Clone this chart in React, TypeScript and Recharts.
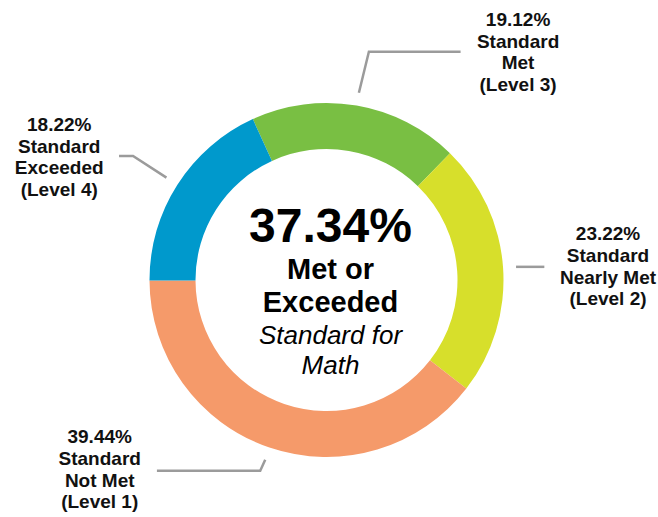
import { PieChart, Pie, Cell } from "recharts";

// Slices in drawing order (clockwise from about 11 o'clock)
const percents = [19.12, 23.22, 39.44, 18.22];
const labelLines = [
  ["Standard", "Met", "(Level 3)"],
  ["Standard", "Nearly Met", "(Level 2)"],
  ["Standard", "Not Met", "(Level 1)"],
  ["Standard", "Exceeded", "(Level 4)"],
];
const metLevels = [0, 3]; // Level 3 + Level 4
const centerLines = ["Met or", "Exceeded"];
const centerSub = ["Standard for", "Math"];

const colors = ["#79bf43", "#d7df2b", "#f59a6a", "#0099cc"];

// leader line shape per slice: elbow / end offsets from the start point, text offset from end
const leaders = [
  { elbow: [10, -41], end: [101.7, -41], text: [57.5, -25.7] },
  { elbow: [0, 0], end: [28.3, 0], text: [63.7, -26.7] },
  { elbow: [-5, 11], end: [-108.3, 11], text: [-57.2, -27.7] },
  { elbow: [-33.4, -21.7], end: [-47.4, -21.7], text: [-59.8, -25] },
];

const RADIAN = Math.PI / 180;
const FONT = "'Liberation Sans', Arial, sans-serif";
const CX = 326.5;
const CY = 280;

const data = percents.map((value, i) => ({ name: labelLines[i].join(" "), value }));
const metTotal = metLevels.reduce((s, i) => s + percents[i], 0);

function renderLabel(props: any) {
  const { cx, cy, midAngle, outerRadius, index } = props;
  const r = outerRadius + 13;
  const sx = cx + r * Math.cos(-midAngle * RADIAN);
  const sy = cy + r * Math.sin(-midAngle * RADIAN);
  const l = leaders[index];
  const ex = sx + l.end[0];
  const ey = sy + l.end[1];
  const tx = ex + l.text[0];
  const ty = ey + l.text[1];
  const lines = [`${percents[index].toFixed(2)}%`, ...labelLines[index]];
  return (
    <g key={`lbl-${index}`}>
      <polyline
        points={`${sx},${sy} ${sx + l.elbow[0]},${sy + l.elbow[1]} ${ex},${ey}`}
        fill="none"
        stroke="#9b9b9b"
        strokeWidth={2.5}
      />
      <text x={tx} y={ty} textAnchor="middle" fontFamily={FONT} fontWeight="bold" fontSize={19} fill="#111">
        {lines.map((t, j) => (
          <tspan key={j} x={tx} y={ty + j * 21.7}>
            {t}
          </tspan>
        ))}
      </text>
    </g>
  );
}

function CenterText() {
  const x = CX + 4;
  return (
    <g>
      <text x={x} y={CY - 38.3} textAnchor="middle" fontFamily={FONT} fontWeight="bold" fontSize={48} fill="#000">
        {metTotal.toFixed(2)}%
      </text>
      {centerLines.map((t, i) => (
        <text key={t} x={x} y={CY - 1 + i * 33} textAnchor="middle" fontFamily={FONT} fontWeight="bold" fontSize={29} fill="#000">
          {t}
        </text>
      ))}
      {centerSub.map((t, i) => (
        <text key={t} x={x} y={CY + 64 + i * 29.5} textAnchor="middle" fontFamily={FONT} fontStyle="italic" fontSize={26} fill="#000">
          {t}
        </text>
      ))}
    </g>
  );
}

export default function App() {
  return (
    <div style={{ position: "absolute", left: 0, top: 0, background: "#fff" }}>
      <PieChart width={658} height={517} margin={{ top: 0, right: 0, bottom: 0, left: 0 }}>
        <Pie
          data={data}
          dataKey="value"
          nameKey="name"
          cx={CX}
          cy={CY}
          innerRadius={131}
          outerRadius={177}
          startAngle={114.6}
          endAngle={-245.4}
          stroke="none"
          label={renderLabel}
          labelLine={false}
          isAnimationActive={false}
        >
          {data.map((_, i) => (
            <Cell key={i} fill={colors[i]} />
          ))}
        </Pie>
        <CenterText />
      </PieChart>
    </div>
  );
}
